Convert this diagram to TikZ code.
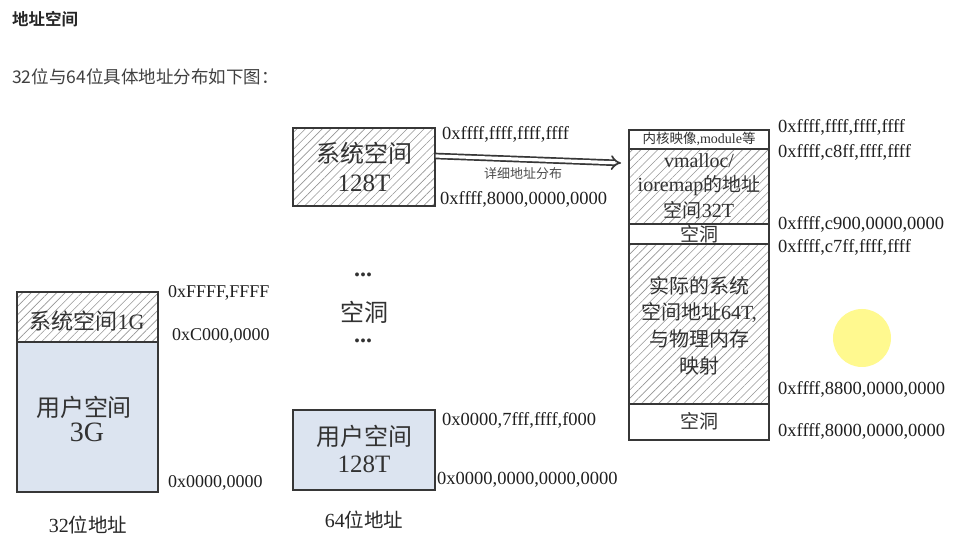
\documentclass[tikz,border=0pt]{standalone}
\usepackage{fontspec}
\setmainfont{Liberation Serif}
\newfontfamily\cjk{Noto Sans CJK SC}
\newfontfamily\cjkb{Noto Sans CJK SC Bold}
\usetikzlibrary{patterns.meta,arrows.meta}
\definecolor{ublue}{RGB}{220,228,240}
\definecolor{boxline}{RGB}{55,55,55}
\definecolor{txt}{RGB}{50,50,50}
\definecolor{hatch}{RGB}{150,150,150}
\newcommand\fs[1]{\fontsize{#1}{#1}\selectfont}
\newcommand\zh[2]{{\cjk\fs{#1}#2}}
\tikzset{
  hatchbox/.style={draw=boxline, line width=1.2pt, inner sep=0pt,
    pattern={Lines[angle=45,distance=6pt,line width=0.6pt]}, pattern color=hatch},
  plainbox/.style={draw=boxline, line width=1.2pt, inner sep=0pt, fill=white},
  bluebox/.style={draw=boxline, line width=1.2pt, inner sep=0pt, fill=ublue},
  lbl/.style={inner sep=0pt, text=txt, anchor=center},
  addr/.style={inner sep=0pt, anchor=base west, text=black!88, font=\fs{18.5}},
}
\begin{document}
\begin{tikzpicture}[x=1pt,y=-1pt]
\useasboundingbox[fill=white] (0,0) rectangle (962,553);

% heading
\node[inner sep=0pt, anchor=west, text=black!85] (title) at (12,19) {\cjkb\fs{16.5}地址空间};
\node[inner sep=0pt, anchor=west, text=black!75] (sub) at (12,77) {\cjk\fs{17.5}32位与64位具体地址分布如下图：};

% ---------- 32 bit ----------
\node[hatchbox, minimum width=141pt, minimum height=50pt] (s32) at (87.5,317) {};
\node[bluebox, minimum width=141pt, minimum height=150pt] (u32) at (87.5,417) {};
\node[lbl] (s32t) at (87,321) {\zh{22}{系统空间}\fs{22}1G};
\node[lbl] (u32a) at (84,407) {\zh{24}{用户空间}};
\node[lbl] (u32b) at (87,432) {\fs{28}3G};
\node[addr, font=\fs{18}] (a32a) at (168,298) {0xFFFF,FFFF};
\node[addr, font=\fs{18}] (a32b) at (172,341) {0xC000,0000};
\node[addr, font=\fs{18}] (a32c) at (168,487) {0x0000,0000};
\node[lbl, text=black!85] (c32) at (88,525) {\fs{20}32\zh{19.5}{位地址}};

% ---------- 64 bit ----------
\node[hatchbox, minimum width=142pt, minimum height=78pt] (s64) at (364,167) {};
\node[lbl] (s64a) at (364,153) {\zh{24}{系统空间}};
\node[lbl] (s64b) at (364,183) {\fs{25}128T};
\node[lbl] (dots1) at (363,275) {\fs{24}\textbf{...}};
\node[lbl] (hole) at (364,312) {\zh{24}{空洞}};
\node[lbl] (dots2) at (363,341) {\fs{24}\textbf{...}};
\node[bluebox, minimum width=142pt, minimum height=80pt] (u64) at (364,450) {};
\node[lbl] (u64a) at (364,436) {\zh{24}{用户空间}};
\node[lbl] (u64b) at (364,464) {\fs{25}128T};
\node[addr] (a64a) at (442,140) {0xffff,ffff,ffff,ffff};
\node[addr] (a64b) at (440,205) {0xffff,8000,0000,0000};
\node[addr] (a64c) at (442,425) {0x0000,7fff,ffff,f000};
\node[addr] (a64d) at (437,484) {0x0000,0000,0000,0000};
\node[lbl, text=black!85] (c64) at (364,520) {\fs{20}64\zh{19.5}{位地址}};

% ---------- detailed column ----------
\node[plainbox, minimum width=139pt, minimum height=19pt] (r1) at (699,139.5) {};
\node[hatchbox, minimum width=139pt, minimum height=75pt] (r2) at (699,186.5) {};
\node[plainbox, minimum width=139pt, minimum height=20pt] (r3) at (699,234) {};
\node[hatchbox, minimum width=139pt, minimum height=160pt] (r4) at (699,324) {};
\node[plainbox, minimum width=139pt, minimum height=36pt] (r5) at (699,422) {};
\draw[draw=boxline, line width=1.6pt] (r1.north west) rectangle (r5.south east);

\node[lbl] (t1) at (699,139) {\zh{13.5}{内核映像}\fs{14},module\zh{13.5}{等}};
\node[lbl] (t2a) at (699,161) {\fs{20}vmalloc/};
\node[lbl] (t2b) at (699,186) {\fs{20}ioremap\zh{19}{的地址}};
\node[lbl] (t2c) at (699,210) {\zh{19}{空间}\fs{20}32T};
\node[lbl] (t3) at (699,234.5) {\zh{19}{空洞}};
\node[lbl] (t4a) at (699,286) {\zh{20}{实际的系统}};
\node[lbl] (t4b) at (699,313) {\zh{20}{空间地址}\fs{20}64T,};
\node[lbl] (t4c) at (699,339) {\zh{20}{与物理内存}};
\node[lbl] (t4d) at (699,366) {\zh{20}{映射}};
\node[lbl] (t5) at (699,421) {\zh{19}{空洞}};

\node[addr] (b1) at (778,133) {0xffff,ffff,ffff,ffff};
\node[addr] (b2) at (778,158) {0xffff,c8ff,ffff,ffff};
\node[addr] (b3) at (778,230) {0xffff,c900,0000,0000};
\node[addr] (b4) at (778,253) {0xffff,c7ff,ffff,ffff};
\node[addr] (b5) at (778,395) {0xffff,8800,0000,0000};
\node[addr] (b6) at (778,437) {0xffff,8000,0000,0000};

% arrow
\coordinate (aend) at (621,163);
\draw[boxline, line width=1.7pt, double, double distance=3.2pt, -{Implies[length=11pt]}]
  ([yshift=11pt]s64.east) -- (aend);
\node[lbl, text=black!70] (arrlbl) at (523,174) {\zh{13}{详细地址分布}};

% cursor highlight
\node[circle, fill=yellow!55, opacity=0.8, minimum size=58pt, inner sep=0pt] (cursor) at (862,338) {};
\end{tikzpicture}
\end{document}
